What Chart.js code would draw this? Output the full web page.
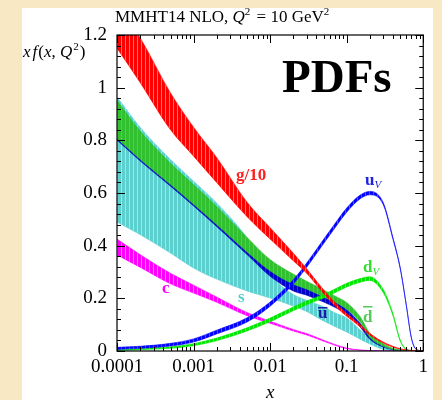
<!DOCTYPE html>
<html>
<head>
<meta charset="utf-8">
<script src="https://cdn.jsdelivr.net/npm/chart.js@4.4.0/dist/chart.umd.min.js"></script>
<style>
  body { margin: 0; background: #f8e8c4; width: 442px; height: 400px; overflow: hidden; }
  #panel { position: absolute; left: 22px; top: 8px; width: 411px; height: 392px; background: #fff; }
</style>
</head>
<body>
<div id="panel"><canvas id="pdf" width="411" height="392"></canvas></div>
<script>
var xs = [1e-4, 2e-4, 5e-4, 1e-3, 2e-3, 5e-3, 0.01, 0.02, 0.03, 0.05, 0.07, 0.1, 0.15, 0.2, 0.3, 0.4, 0.5, 0.6, 0.7, 0.8, 1];

// bands: lower / upper edge at each x
var gLo  = [1.15, 1.02, 0.84, 0.74, 0.64, 0.51, 0.425, 0.343, 0.295, 0.218, 0.172, 0.132, 0.092, 0.061, 0.030, 0.015, 0.007, 0.0035, 0.0015, 0.0005, 0];
var gHi  = [1.32, 1.19, 0.98, 0.85, 0.735, 0.565, 0.468, 0.372, 0.312, 0.232, 0.184, 0.142, 0.100, 0.067, 0.034, 0.018, 0.009, 0.0045, 0.0025, 0.001, 0];
var uvLo = [0.006, 0.010, 0.019, 0.034, 0.065, 0.110, 0.170, 0.254, 0.318, 0.408, 0.467, 0.527, 0.578, 0.593, 0.556, 0.427, 0.313, 0.174, 0.049, 0.007, 0];
var uvHi = [0.014, 0.018, 0.029, 0.046, 0.079, 0.126, 0.186, 0.270, 0.334, 0.424, 0.483, 0.543, 0.592, 0.606, 0.564, 0.433, 0.317, 0.176, 0.051, 0.008, 0];
var dvLo = [0.002, 0.005, 0.010, 0.020, 0.039, 0.076, 0.111, 0.153, 0.176, 0.201, 0.221, 0.243, 0.261, 0.268, 0.222, 0.136, 0.038, 0.005, 0.0005, 0, 0];
var dvHi = [0.006, 0.009, 0.016, 0.028, 0.049, 0.088, 0.125, 0.167, 0.190, 0.215, 0.235, 0.257, 0.275, 0.282, 0.234, 0.144, 0.042, 0.007, 0.0015, 0, 0];
var dbLo = [0.807, 0.728, 0.632, 0.557, 0.480, 0.376, 0.304, 0.254, 0.235, 0.205, 0.186, 0.159, 0.110, 0.052, 0.018, 0.006, 0.002, 0, 0, 0, 0];
var dbHi = [0.952, 0.836, 0.713, 0.632, 0.550, 0.431, 0.347, 0.292, 0.265, 0.232, 0.209, 0.184, 0.130, 0.068, 0.028, 0.010, 0.004, 0.001, 0, 0, 0];
var ubLo = [0.801, 0.722, 0.626, 0.551, 0.473, 0.366, 0.284, 0.228, 0.212, 0.186, 0.166, 0.141, 0.091, 0.045, 0.015, 0.005, 0.001, 0, 0, 0, 0];
var ubHi = [0.815, 0.735, 0.640, 0.565, 0.490, 0.385, 0.310, 0.255, 0.235, 0.205, 0.185, 0.158, 0.105, 0.058, 0.022, 0.008, 0.003, 0.001, 0, 0, 0];
var sLo  = [0.490, 0.442, 0.372, 0.315, 0.273, 0.228, 0.201, 0.171, 0.150, 0.114, 0.093, 0.072, 0.045, 0.027, 0.006, 0.001, 0, 0, 0, 0, 0];
var sHi  = [0.965, 0.850, 0.727, 0.645, 0.562, 0.430, 0.290, 0.215, 0.193, 0.168, 0.145, 0.125, 0.080, 0.050, 0.015, 0.003, 0, 0, 0, 0, 0];
var cLo  = [0.365, 0.318, 0.255, 0.220, 0.185, 0.134, 0.105, 0.076, 0.061, 0.037, 0.022, 0.009, 0.003, 0.001, 0, 0, 0, 0, 0, 0, 0];
var cHi  = [0.425, 0.366, 0.295, 0.250, 0.205, 0.146, 0.113, 0.082, 0.066, 0.041, 0.025, 0.011, 0.004, 0.002, 0, 0, 0, 0, 0, 0, 0];

var xTicks = [1e-4, 1e-3, 0.01, 0.1, 1];
var xTickLabels = ['0.0001', '0.001', '0.01', '0.1', '1'];
var yTicks = [0, 0.2, 0.4, 0.6, 0.8, 1, 1.2];
var yTickLabels = ['0', '0.2', '0.4', '0.6', '0.8', '1', '1.2'];

var SERIF = "'Liberation Serif', 'DejaVu Serif', serif";

function pts(arr) {
    return xs.map(function (x, i) { return {x: x, y: arr[i]}; });
}

function hatch(base, stripe) {
    var c = document.createElement('canvas');
    c.width = 4; c.height = 4;
    var g = c.getContext('2d');
    g.fillStyle = base; g.fillRect(0, 0, 4, 4);
    g.fillStyle = stripe; g.fillRect(3, 0, 1, 4);
    return g.createPattern(c, 'repeat');
}

var datasets = [];
function band(lo, hi, color, stripe, order) {
    var common = {borderColor: color, borderWidth: 0.6, pointRadius: 0, tension: 0.4,
                  cubicInterpolationMode: 'monotone', order: order};
    datasets.push(Object.assign({data: pts(lo), fill: false}, common));
    datasets.push(Object.assign({data: pts(hi), fill: '-1', backgroundColor: hatch(color, stripe)}, common));
}
band(gLo, gHi, '#ff0000', '#ff7070', 1);
band(uvLo, uvHi, '#0000ff', '#5555ff', 2);
band(dvLo, dvHi, '#00e600', '#66f066', 3);
band(dbLo, dbHi, '#30c030', '#50d050', 4);
band(ubLo, ubHi, '#0000c8', '#3030d8', 5);
band(cLo, cHi, '#ff00ff', '#ff80ff', 6);
band(sLo, sHi, '#5ccfcf', '#9fe6e6', 7);

// frame with inward ticks on all sides
var frame = {
    id: 'frame',
    afterDatasetsDraw: function (chart) {
        var a = chart.chartArea, ctx = chart.ctx;
        var sx = chart.scales.x, sy = chart.scales.y;
        ctx.save();
        ctx.strokeStyle = '#000';
        ctx.lineWidth = 1.2;
        ctx.strokeRect(a.left, a.top, a.right - a.left, a.bottom - a.top);
        ctx.lineWidth = 1;
        ctx.beginPath();
        for (var d = -4; d <= 0; d++) {
            for (var m = 1; m <= 9; m++) {
                var v = m * Math.pow(10, d);
                if (v > 1.0001) break;
                var px = Math.round(sx.getPixelForValue(v)) + 0.5;
                var len = m === 1 ? 8 : 4;
                ctx.moveTo(px, a.bottom); ctx.lineTo(px, a.bottom - len);
                ctx.moveTo(px, a.top); ctx.lineTo(px, a.top + len);
            }
        }
        for (var k = 0; k <= 30; k++) {
            var py = Math.round(sy.getPixelForValue(k * 0.04)) + 0.5;
            var l = k % 5 === 0 ? 8 : 4;
            ctx.moveTo(a.left, py); ctx.lineTo(a.left + l, py);
            ctx.moveTo(a.right, py); ctx.lineTo(a.right - l, py);
        }
        ctx.stroke();
        ctx.restore();
    }
};

function runs(ctx, parts, x, y, color) {
    ctx.fillStyle = color;
    parts.forEach(function (p) {
        ctx.font = p.f;
        ctx.fillText(p.t, x, y + (p.dy || 0));
        x += ctx.measureText(p.t).width + (p.gap || 0);
    });
    return x;
}

var labels = {
    id: 'labels',
    afterDraw: function (chart) {
        var ctx = chart.ctx;
        ctx.save();
        ctx.textBaseline = 'alphabetic';
        ctx.textAlign = 'left';
        runs(ctx, [
            {t: 'MMHT14 NLO, ', f: '17px ' + SERIF},
            {t: 'Q', f: 'italic 17px ' + SERIF},
            {t: '2', f: '11px ' + SERIF, dy: -7, gap: 2},
            {t: ' = 10 GeV', f: '17px ' + SERIF},
            {t: '2', f: '11px ' + SERIF, dy: -7}
        ], 93, 14, '#000');
        runs(ctx, [
            {t: 'x', f: 'italic 17px ' + SERIF, gap: 2},
            {t: 'f', f: 'italic 17px ' + SERIF, gap: 1},
            {t: '(', f: '17px ' + SERIF},
            {t: 'x', f: 'italic 17px ' + SERIF},
            {t: ', ', f: '17px ' + SERIF},
            {t: 'Q', f: 'italic 17px ' + SERIF, gap: 1},
            {t: '2', f: '11px ' + SERIF, dy: -7, gap: 1},
            {t: ')', f: '17px ' + SERIF}
        ], 1, 49, '#000');
        runs(ctx, [{t: 'PDFs', f: 'bold 47px ' + SERIF}], 260, 84, '#000');
        runs(ctx, [{t: 'x', f: 'italic 19px ' + SERIF}], 244, 390, '#000');

        runs(ctx, [{t: 'g/10', f: 'bold 17px ' + SERIF}], 214, 172, '#ff2020');
        runs(ctx, [{t: 'u', f: 'bold 17px ' + SERIF}, {t: 'V', f: 'italic 11px ' + SERIF, dy: 3}], 343, 177, '#2222dd');
        runs(ctx, [{t: 'd', f: 'bold 17px ' + SERIF}, {t: 'V', f: 'italic 11px ' + SERIF, dy: 3}], 341, 264, '#33dd33');
        runs(ctx, [{t: 'c', f: 'bold 17px ' + SERIF}], 140, 285, '#ff00ff');
        runs(ctx, [{t: 's', f: 'bold 17px ' + SERIF}], 216, 294, '#55cccc');
        var ue = runs(ctx, [{t: 'u', f: 'bold 17px ' + SERIF}], 296, 310, '#1a1aaa');
        ctx.fillRect(296, 299, ue - 296, 1.5);
        var de = runs(ctx, [{t: 'd', f: 'bold 17px ' + SERIF}], 341, 314, '#55cc55');
        ctx.fillRect(341, 298, de - 341, 1.5);
        ctx.restore();
    }
};

new Chart(document.getElementById('pdf').getContext('2d'), {
    type: 'line',
    data: {datasets: datasets},
    options: {
        responsive: false,
        animation: false,
        devicePixelRatio: 1,
        layout: {padding: {left: 0, top: 27, right: 7, bottom: 0}},
        plugins: {legend: {display: false}, tooltip: {enabled: false}},
        scales: {
            x: {
                type: 'logarithmic', min: 1e-4, max: 1,
                afterBuildTicks: function (s) { s.ticks = xTicks.map(function (v) { return {value: v}; }); },
                afterFit: function (s) { s.height = 49; },
                grid: {display: false, drawTicks: false},
                border: {display: false},
                ticks: {
                    autoSkip: false, maxRotation: 0, padding: 5, color: '#000',
                    font: {family: SERIF, size: 19},
                    callback: function (v, i) { return xTickLabels[i]; }
                }
            },
            y: {
                min: 0, max: 1.2,
                afterBuildTicks: function (s) { s.ticks = yTicks.map(function (v) { return {value: v}; }); },
                afterFit: function (s) { s.width = 95; },
                grid: {display: false, drawTicks: false},
                border: {display: false},
                ticks: {
                    padding: 10, color: '#000',
                    font: {family: SERIF, size: 19},
                    callback: function (v, i) { return yTickLabels[i]; }
                }
            }
        }
    },
    plugins: [frame, labels]
});
</script>
</body>
</html>
